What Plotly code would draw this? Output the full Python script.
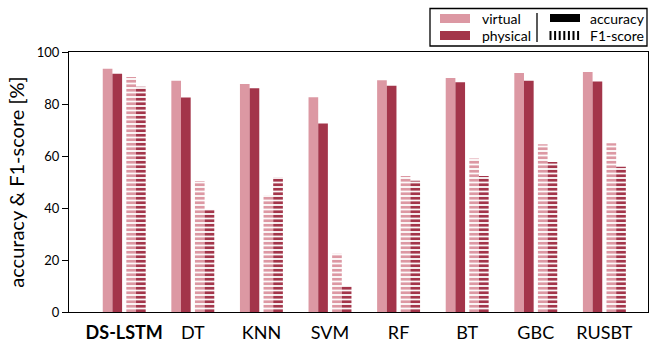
import plotly.graph_objects as go

# Classifier names along the x axis
models = ["DS-LSTM", "DT", "KNN", "SVM", "RF", "BT", "GBC", "RUSBT"]
tick_text = ["<b>DS-LSTM</b>", "DT", "KNN", "SVM", "RF", "BT", "GBC", "RUSBT"]

# Scores in percent
acc_virtual = [93.6, 88.9, 87.7, 82.6, 89.1, 90.0, 91.9, 92.3]
acc_physical = [91.6, 82.5, 86.1, 72.5, 87.0, 88.4, 88.9, 88.7]
f1_virtual = [90.4, 50.4, 45.0, 22.4, 52.3, 59.0, 64.5, 64.9]
f1_physical = [86.6, 39.3, 51.9, 10.0, 50.5, 52.3, 57.7, 55.9]

C_VIRT = "#DC98A3"
C_PHYS = "#A3354A"
FONT = "Lato"

W = 0.141
x = list(range(len(models)))

fig = go.Figure()


def add_bar(vals, color, offset, hatched):
    marker = dict(color=color, line=dict(width=0))
    if hatched:
        marker["pattern"] = dict(shape="-", fgcolor=color, bgcolor="white",
                                 size=4.5, solidity=0.62, fillmode="replace")
    fig.add_trace(go.Bar(x=x, y=vals, width=W, offset=offset, marker=marker,
                         showlegend=False, hoverinfo="y"))


add_bar(acc_virtual, C_VIRT, -0.313, False)
add_bar(acc_physical, C_PHYS, -0.172, False)
add_bar(f1_virtual, C_VIRT, 0.031, True)
add_bar(f1_physical, C_PHYS, 0.172, True)

L, R, T, B = 69, 10, 52, 30
PW, PH = 658 - L - R, 342 - T - B


def px(xp):
    return (xp - L) / PW


def py(yp):
    return (342 - B - yp) / PH


shapes = [
    # legend frame
    dict(type="rect", xref="paper", yref="paper", x0=px(430), x1=px(647),
         y0=py(46), y1=py(8.5), line=dict(color="black", width=1.3),
         fillcolor="white"),
    # colour swatches
    dict(type="rect", xref="paper", yref="paper", x0=px(440), x1=px(470),
         y0=py(23), y1=py(14), line=dict(width=0), fillcolor=C_VIRT),
    dict(type="rect", xref="paper", yref="paper", x0=px(440), x1=px(470),
         y0=py(40), y1=py(31), line=dict(width=0), fillcolor=C_PHYS),
    # divider
    dict(type="line", xref="paper", yref="paper", x0=px(537), x1=px(537),
         y0=py(42), y1=py(13), line=dict(color="black", width=1.3)),
    # accuracy swatch
    dict(type="rect", xref="paper", yref="paper", x0=px(550), x1=px(580),
         y0=py(22), y1=py(14), line=dict(width=0), fillcolor="black"),
]
# F1-score swatch: vertical stripes
for i in range(7):
    xs = 550.5 + i * 4.6
    shapes.append(dict(type="line", xref="paper", yref="paper", x0=px(xs), x1=px(xs),
                       y0=py(40), y1=py(31), line=dict(color="black", width=2)))

annotations = []
for txt, xx, yy in [("virtual", 480, 18.5), ("physical", 480, 35.5),
                    ("accuracy", 588, 18.5), ("F1-score", 588, 35.5)]:
    annotations.append(dict(text=txt, xref="paper", yref="paper", x=px(xx), y=py(yy),
                            xanchor="left", yanchor="middle", showarrow=False,
                            font=dict(family=FONT, size=14, color="black")))

fig.update_layout(
    width=658, height=342,
    margin=dict(l=L, r=R, t=T, b=B),
    paper_bgcolor="white", plot_bgcolor="white",
    font=dict(family=FONT, color="black"),
    shapes=shapes, annotations=annotations,
    xaxis=dict(range=[-0.805, 7.636], tickvals=x, ticktext=tick_text,
               showgrid=False, zeroline=False, ticks="", showline=True,
               linecolor="black", linewidth=1.3, mirror=True, automargin=False,
               tickfont=dict(family=FONT, size=18), ticklabelstandoff=4),
    yaxis=dict(range=[0, 100], tickvals=[0, 20, 40, 60, 80, 100],
               showgrid=False, zeroline=False, ticks="outside", ticklen=6,
               tickcolor="black", tickwidth=1.3, showline=True,
               linecolor="black", linewidth=1.3, mirror=True, automargin=False,
               tickfont=dict(family=FONT, size=13),
               title=dict(text="accuracy & F1-score [%]",
                          font=dict(family=FONT, size=20), standoff=6)),
)

fig.write_html("out.html")
